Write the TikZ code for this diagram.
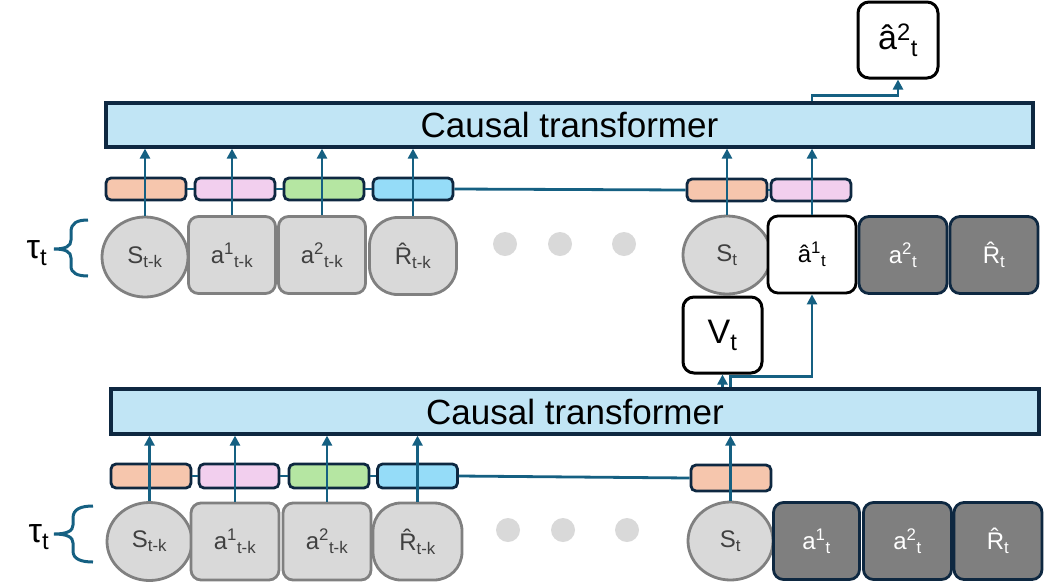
\documentclass[tikz,border=0pt]{standalone}
\usepackage{fontspec}
\setmainfont{Liberation Sans}
\usetikzlibrary{shapes.geometric,arrows.meta}
\definecolor{arrowblue}{HTML}{156082}
\definecolor{navy}{HTML}{0E2841}
\definecolor{tfill}{HTML}{C1E5F5}
\definecolor{eorange}{HTML}{F6C6AD}
\definecolor{epink}{HTML}{F2CFEE}
\definecolor{egreen}{HTML}{B5E6A2}
\definecolor{eblue}{HTML}{95DCF8}
\definecolor{gfill}{HTML}{D9D9D9}
\definecolor{gline}{HTML}{808080}
\definecolor{gtext}{HTML}{404040}
\definecolor{dfill}{HTML}{7F7F7F}
\begin{document}
\begin{tikzpicture}[x=1pt,y=-1pt,
  tf/.style={draw=navy, fill=tfill, line width=3.2pt, inner sep=0pt,
    font=\fontsize{35}{35}\selectfont, text=black},
  emb/.style={draw=navy, line width=2.8pt, rounded corners=5pt, inner sep=0pt,
    minimum width=80pt, minimum height=22pt},
  tokbase/.style={line width=2.8pt, inner sep=0pt, minimum width=87pt, minimum height=77pt,
    font=\fontsize{24}{24}\selectfont},
  gbox/.style={tokbase, draw=gline, fill=gfill, text=gtext, rounded corners=10pt},
  gell/.style={tokbase, ellipse, draw=gline, fill=gfill, text=gtext},
  gsq/.style={tokbase, draw=gline, fill=gfill, text=gtext, rounded corners=28pt},
  dbox/.style={tokbase, draw=navy, fill=dfill, text=white, rounded corners=10pt},
  wbox/.style={tokbase, draw=black, fill=white, text=black, rounded corners=10pt},
  obox/.style={draw=black, fill=white, line width=3pt, rounded corners=11pt, inner sep=0pt,
    minimum width=80pt, minimum height=76pt, font=\fontsize{34}{34}\selectfont},
  arr/.style={draw=arrowblue, line width=2.8pt, -{Triangle[width=10pt,length=10pt]}},
  link/.style={draw=arrowblue, line width=2.8pt},
  dotn/.style={circle, fill=gfill, inner sep=0pt, minimum size=24pt},
  brc/.style={draw=arrowblue, line width=3pt},
  taun/.style={font=\fontsize{34}{34}\selectfont, text=black, inner sep=0pt}
]
\useasboundingbox (0,0) rectangle (1044,582);

% ---------- top section ----------
\node[tf, minimum width=927pt, minimum height=44pt] (T1) at (569.5,125) {Causal transformer};

\node[gell, minimum width=86pt, minimum height=80pt] (s1) at (145,257) {S\textsubscript{t-k}};
\node[gbox] (p1) at (232,255) {a\textsuperscript{1}\textsubscript{t-k}};
\node[gbox] (q1) at (322,255) {a\textsuperscript{2}\textsubscript{t-k}};
\node[gsq] (r1) at (413,256) {\^{R}\textsubscript{t-k}};
\node[gell, minimum width=88pt, minimum height=78pt] (s5) at (727,255) {S\textsubscript{t}};
\node[wbox, minimum width=88pt] (a1h) at (812,254.5) {â\textsuperscript{1}\textsubscript{t}};
\node[dbox, minimum width=88pt] (a2d) at (903,255) {a\textsuperscript{2}\textsubscript{t}};
\node[dbox, minimum width=88pt] (rd) at (994,255) {\^{R}\textsubscript{t}};

\node[dotn] (d1) at (505,244) {};
\node[dotn] (d2) at (560,244) {};
\node[dotn] (d3) at (624,244) {};

\node[emb, fill=eorange] (e1) at (146,189) {};
\node[emb, fill=epink] (e2) at (235,189) {};
\node[emb, fill=egreen] (e3) at (324,189) {};
\node[emb, fill=eblue] (e4) at (413,189) {};
\node[emb, fill=eorange] (e5) at (727,190) {};
\node[emb, fill=epink] (e6) at (811,190) {};
\draw[link] (e1.east) -- (e2.west);
\draw[link] (e2.east) -- (e3.west);
\draw[link] (e3.east) -- (e4.west);
\draw[link] (e4.east) -- (e5.west);
\draw[link] (e5.east) -- (e6.west);

\foreach \n in {s1,p1,q1,r1,s5,a1h}
  \draw[arr] (\n.north) -- (\n.north |- T1.south);

\node[obox] (out) at (898,40) {â\textsuperscript{2}\textsubscript{t}};
\draw[arr] (a1h.north |- T1.north) -- ++(0,-6) -| (out.south);

\draw[brc] (88,220) .. controls (77,220) and (71,223) .. (71,232) -- (71,240)
  .. controls (71,246) and (66,249) .. (54,249)
  .. controls (66,249) and (71,252) .. (71,258) -- (71,266)
  .. controls (71,273) and (77,276) .. (88,276);
\node[taun] (tau1) at (37,253) {τ\textsubscript{t}};

% ---------- bottom section ----------
\node[tf, minimum width=928pt, minimum height=45pt] (T2) at (575,411.5) {Causal transformer};

\node[gell, minimum width=85pt, minimum height=78pt] (s2) at (149.5,541.5) {S\textsubscript{t-k}};
\node[gbox, minimum width=88pt] (p2) at (235,541.5) {a\textsuperscript{1}\textsubscript{t-k}};
\node[gbox, minimum width=88pt] (q2) at (327,541.5) {a\textsuperscript{2}\textsubscript{t-k}};
\node[gsq, minimum width=89pt] (r2) at (417.5,541.5) {\^{R}\textsubscript{t-k}};
\node[gell, minimum width=85pt, minimum height=78pt] (s6) at (730.5,541) {S\textsubscript{t}};
\node[dbox, minimum width=86pt] (a1d) at (816.5,541) {a\textsuperscript{1}\textsubscript{t}};
\node[dbox, minimum width=88pt] (a2e) at (907.5,541) {a\textsuperscript{2}\textsubscript{t}};
\node[dbox, minimum width=88pt] (re) at (998,541) {\^{R}\textsubscript{t}};

\node[dotn] (d4) at (508,530) {};
\node[dotn] (d5) at (563,530) {};
\node[dotn] (d6) at (627,530) {};

\node[emb, fill=eorange, minimum height=24pt] (f1) at (151,476) {};
\node[emb, fill=epink, minimum height=24pt] (f2) at (239,476) {};
\node[emb, fill=egreen, minimum height=24pt] (f3) at (329,476) {};
\node[emb, fill=eblue, minimum height=24pt] (f4) at (417.5,476) {};
\node[emb, fill=eorange, minimum height=26pt] (f5) at (731,478) {};
\draw[link] (f1.east) -- (f2.west);
\draw[link] (f2.east) -- (f3.west);
\draw[link] (f3.east) -- (f4.west);
\draw[link] (f4.east) -- (f5.west);

\foreach \n in {s2,p2,q2,r2,s6}
  \draw[arr] (\n.north) -- (\n.north |- T2.south);

\node[obox, minimum width=79pt] (vt) at (722.5,335) {V\textsubscript{t}};
\draw[arr] (vt.south |- T2.north) -- (vt.south);
\draw[arr] ([xshift=8pt]vt.south |- T2.north) -- ++(0,-11) -| (a1h.south);

\draw[brc] (93,506) .. controls (81,506) and (73,509) .. (73,518) -- (73,525)
  .. controls (73,531) and (67,534) .. (54,534)
  .. controls (67,534) and (73,537) .. (73,543) -- (73,551)
  .. controls (73,559) and (81,562) .. (93,562);
\node[taun] (tau2) at (39,537) {τ\textsubscript{t}};
\end{tikzpicture}
\end{document}
